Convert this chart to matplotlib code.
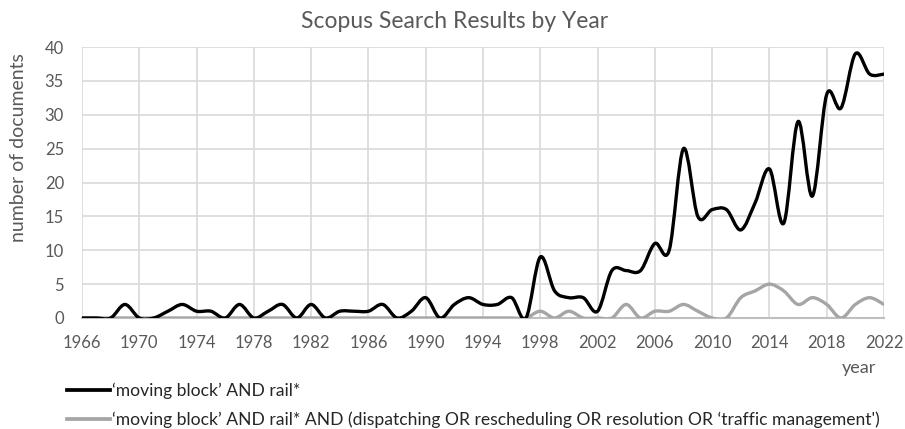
import matplotlib
matplotlib.use("Agg")
import matplotlib.pyplot as plt
from matplotlib.path import Path
from matplotlib.patches import PathPatch
from matplotlib.lines import Line2D

years = list(range(1966, 2023))
all_rail = [0, 0, 0, 2, 0, 0, 1, 2, 1, 1,
            0, 2, 0, 1, 2, 0, 2, 0, 1, 1,
            1, 2, 0, 1, 3, 0, 2, 3, 2, 2,
            3, 0, 9, 4, 3, 3, 1, 7, 7, 7,
            11, 10, 25, 15, 16, 16, 13, 17, 22, 14,
            29, 18, 33, 31, 39, 36, 36]
dispatching = [0, 0, 0, 0, 0, 0, 0, 0, 0, 0,
               0, 0, 0, 0, 0, 0, 0, 0, 0, 0,
               0, 0, 0, 0, 0, 0, 0, 0, 0, 0,
               0, 0, 1, 0, 1, 0, 0, 0, 2, 0,
               1, 1, 2, 1, 0, 0, 3, 4, 5, 4,
               2, 3, 2, 0, 2, 3, 2]
x_ticks = list(range(1966, 2023, 4))
y_ticks = list(range(0, 41, 5))
label_1 = "\u2018moving block\u2019 AND rail*"
label_2 = ("\u2018moving block\u2019 AND rail* AND (dispatching OR rescheduling "
           "OR resolution OR \u2018traffic management')")

plt.rcParams["font.family"] = ["Lato", "DejaVu Sans"]

TXT = "#595959"
GRID = "#d9d9d9"


def smooth_path(xs, ys):
    # Bezier path through the points, like a spreadsheet "smoothed line"
    verts = [(xs[0], ys[0])]
    codes = [Path.MOVETO]
    n = len(xs)
    for i in range(n - 1):
        x0, y0 = (xs[i - 1], ys[i - 1]) if i > 0 else (xs[i], ys[i])
        x1, y1 = xs[i], ys[i]
        x2, y2 = xs[i + 1], ys[i + 1]
        x3, y3 = (xs[i + 2], ys[i + 2]) if i + 2 < n else (x2, y2)
        c1 = (x1 + (x2 - x0) / 6, y1 + (y2 - y0) / 6)
        c2 = (x2 - (x3 - x1) / 6, y2 - (y3 - y1) / 6)
        verts += [c1, c2, (x2, y2)]
        codes += [Path.CURVE4] * 3
    return Path(verts, codes)


fig = plt.figure(figsize=(9.05, 4.29), dpi=100)
ax = fig.add_axes([82 / 905, 1 - 318 / 429, (884 - 82) / 905, (318 - 47) / 429])
ax.set_xlim(1966, 2022)
ax.set_ylim(0, 40)
ax.set_xticks(x_ticks)
ax.set_yticks(y_ticks)
ax.grid(True, color=GRID, linewidth=1.2)
ax.set_axisbelow(True)
for side in ("top", "right", "left"):
    ax.spines[side].set_visible(False)
ax.spines["bottom"].set_color("#bfbfbf")
ax.spines["bottom"].set_linewidth(1.5)
ax.tick_params(length=0, labelsize=12, labelcolor=TXT)
ax.tick_params(axis="x", pad=12)
ax.tick_params(axis="y", pad=13)

for vals, col in ((dispatching, "#a5a5a5"), (all_rail, "black")):
    ax.add_patch(PathPatch(smooth_path(years, vals), facecolor="none",
                           edgecolor=col, linewidth=2.4, capstyle="round",
                           joinstyle="round", zorder=3))

fig.text(455 / 905, 1 - 21 / 429, "Scopus Search Results by Year", ha="center",
         va="center", fontsize=16.5, color=TXT)
fig.text(19 / 905, 1 - 148 / 429, "number of documents", rotation=90,
         ha="center", va="center", fontsize=14, color=TXT)
fig.text(876 / 905, 1 - 368 / 429, "year", ha="right", va="center",
         fontsize=13, color=TXT)

handles = [Line2D([], [], color="black", linewidth=2.7),
           Line2D([], [], color="#a5a5a5", linewidth=2.7)]
fig.legend(handles, [label_1, label_2], loc="upper left",
           bbox_to_anchor=(67 / 905, 1 - 383 / 429), frameon=False,
           fontsize=12.6, handlelength=2.45, handletextpad=0.15,
           labelspacing=0.68, borderpad=0, borderaxespad=0, labelcolor="#262626")

fig.savefig("out.png", dpi=100)
